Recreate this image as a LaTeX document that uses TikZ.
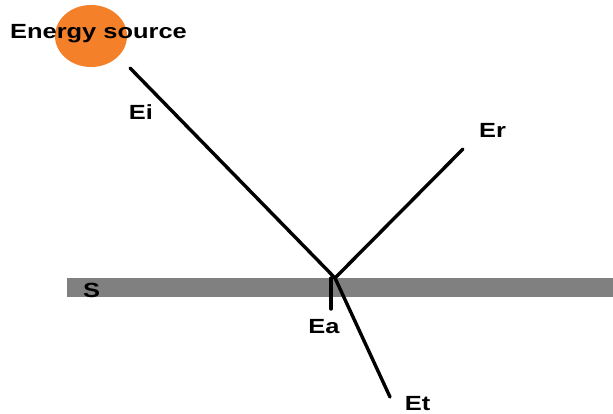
\documentclass[tikz,border=0pt]{standalone}
\usepackage{fontspec}
\setmainfont{Liberation Sans}
\definecolor{slab}{RGB}{128,128,128}
\definecolor{sun}{RGB}{245,128,42}
\tikzset{
  lbl/.style={font=\bfseries\fontsize{20.5}{24}\selectfont, xscale=1.24, inner sep=0pt, anchor=base},
  ray/.style={line width=3.4pt, line cap=round}
}
\begin{document}
\begin{tikzpicture}[x=1pt,y=-1pt]
\useasboundingbox (0,0) rectangle (613,414);
\fill[white] (0,0) rectangle (613,414);

\fill[slab] (67,278) rectangle (613,297);
\fill[sun] (91,36) ellipse [x radius=36, y radius=31];

\coordinate (src) at (130,68);
\coordinate (hit) at (335,278);
\coordinate (refl) at (463,149);
\coordinate (abstop) at (331,278);
\coordinate (absb) at (331,309);
\coordinate (trans) at (390,397);

\draw[ray] (src) -- (hit);
\draw[ray] (hit) -- (refl);
\draw[ray] (hit) -- (trans);
\draw[ray] (abstop) -- (absb);

\node[lbl] (energy) at (98.5,39) {Energy source};
\node[lbl] (ei) at (141,120) {Ei};
\node[lbl] (er) at (492.5,138) {Er};
\node[lbl] (s) at (91.5,297) {S};
\node[lbl] (ea) at (324,333) {Ea};
\node[lbl] (et) at (417.5,410) {Et};
\end{tikzpicture}
\end{document}
